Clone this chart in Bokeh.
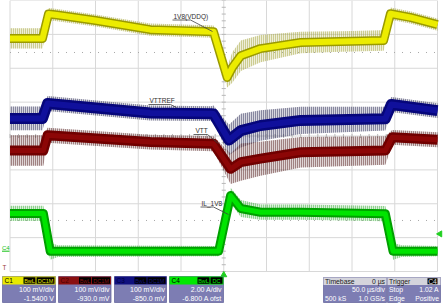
from math import pi
from bokeh.plotting import figure
from bokeh.models import Range1d
from bokeh.core.properties import value
from bokeh.embed import file_html
from bokeh.resources import INLINE

# ---------------- data ----------------
# time in microseconds (50 us/div, trigger at 0)
channels = ["C1", "C2", "C3", "C4"]
volts_per_div = [0.1, 0.1, 0.1, 2.0]
channel_offset = [-1.54, -0.93, -0.85, -6.8]
scale_labels = ["100 mV/div", "100 mV/div", "100 mV/div", "2.00 A/div"]
offset_labels = ["-1.5400 V", "-930.0 mV", "-850.0 mV", "-6.800 A ofst"]
badge_labels = [["BwL", "DC1M"], ["BwL", "DC1M"], ["BwL", "DC1M"], ["BwL", "DC"]]
trace_names = ["1V8(VDDQ)", "VTT", "VTTREF", "IL_1V8"]

# C1 : 1V8 (VDDQ), volts
c1_t = [-250, -212, -205, -195, -150, -86, -12, 4, 10, 20, 43, 90, 137, 187, 195, 218, 250]
c1_v = [1.828, 1.828, 1.900, 1.897, 1.881, 1.854, 1.848, 1.713, 1.742, 1.777, 1.798, 1.816, 1.819, 1.822, 1.901, 1.890, 1.869]
c1_noise = [0.030, 0.030, 0.018, 0.018, 0.018, 0.018, 0.018, 0.030, 0.045, 0.045, 0.040, 0.032, 0.030, 0.030, 0.018, 0.018, 0.018]

# C2 : VTT, volts
c2_t = [-250, -211, -206, -86, -12, 8, 20, 43, 90, 189, 197, 250]
c2_v = [0.887, 0.887, 0.932, 0.912, 0.907, 0.833, 0.853, 0.863, 0.882, 0.887, 0.926, 0.919]
c2_noise = [0.045, 0.045, 0.022, 0.022, 0.022, 0.045, 0.055, 0.050, 0.045, 0.042, 0.022, 0.022]

# C3 : VTTREF, volts
c3_t = [-250, -212, -206, -86, -15, -12, 6, 20, 43, 90, 189, 196, 250]
c3_v = [0.902, 0.902, 0.946, 0.918, 0.916, 0.915, 0.838, 0.866, 0.881, 0.896, 0.901, 0.943, 0.925]
c3_noise = [0.035, 0.035, 0.022, 0.022, 0.022, 0.025, 0.045, 0.050, 0.045, 0.040, 0.035, 0.022, 0.022]

# C4 : IL_1V8, amps
c4_t = [-250, -211, -203, -194, -6, 8, 20, 43, 90, 189, 198, 208, 250]
c4_i = [2.23, 2.23, 0.0, 0.0, 0.0, 3.29, 2.52, 2.30, 2.30, 2.21, 0.0, 0.0, 0.0]
c4_noise = [0.45, 0.45, 0.50, 0.35, 0.30, 0.45, 0.50, 0.45, 0.45, 0.45, 0.50, 0.35, 0.30]

trigger_level = 1.02  # A on C4
timebase = ["Timebase", "0 µs", "50.0 µs/div", "500 kS", "1.0 GS/s"]
trigger = ["Trigger", "C4", "Stop", "1.02 A", "Edge", "Positive"]

# ---------------- styles ----------------
W, H = 443, 303
FONT = value("Liberation Sans")
band_col = ["#9a9a00", "#700000", "#06067a", "#00a000"]
core_col = ["#ecec00", "#8c0606", "#10109c", "#00e400"]
spike_col = ["#a8a840", "#5a2828", "#303058", "#40b040"]
head_col = ["#e8e800", "#8a1010", "#10107e", "#00e800"]
head_txt = ["#000000", "#4a0000", "#000040", "#000000"]
panel_bg = "#7d7db3"
grid_col = "#d8d8d8"

# frame geometry: 10 x 8 divisions
GX0, GX1, GY0, GY1 = 9.5, 437.0, 0.0, 271.0
us_per_px = 500.0 / (GX1 - GX0)
div_per_px = 8.0 / (GY1 - GY0)
x_lo = -250 - GX0 * us_per_px
x_hi = 250 + (W - GX1) * us_per_px
d_top = 4.0
d_bot = 4.0 - H * div_per_px

p = figure(width=W, height=H, x_range=Range1d(x_lo, x_hi), y_range=Range1d(d_bot, d_top),
           output_backend="svg", toolbar_location=None, min_border=0,
           x_axis_type=None, y_axis_type=None, outline_line_color=None,
           background_fill_color="white", border_fill_color="white")
p.extra_x_ranges = {"px": Range1d(0, W)}
p.extra_y_ranges = {"px": Range1d(H, 0)}
for ch, s, off in zip(channels, volts_per_div, channel_offset):
    c = -off
    p.extra_y_ranges[ch] = Range1d(c + d_bot * s, c + d_top * s)

# ---------------- graticule ----------------
vt = [-250 + 50 * k for k in range(11)]
p.segment(x0=vt, y0=[-4] * 11, x1=vt, y1=[4] * 11, line_color=grid_col, line_width=1)
hd = [-4 + k for k in range(9)]
p.segment(x0=[-250] * 9, y0=hd, x1=[250] * 9, y1=hd, line_color=grid_col, line_width=1)
ty = [-4 + 0.2 * k for k in range(41)]
p.segment(x0=[-2.4] * 41, y0=ty, x1=[2.4] * 41, y1=ty, line_color="#b8b8b8", line_width=1)
tx = [-250 + 10 * k for k in range(51)]
p.segment(x0=tx, y0=[-0.06] * 51, x1=tx, y1=[0.06] * 51, line_color="#b8b8b8", line_width=1)
for dy in [2.465, -2.494]:
    p.line(x=[-250, 250], y=[dy, dy], line_color="#a8a8a8", line_width=1, line_dash="1 7")

# ---------------- traces ----------------
series = [(c1_t, c1_v, c1_noise), (c2_t, c2_v, c2_noise), (c3_t, c3_v, c3_noise), (c4_t, c4_i, c4_noise)]
band_w = [9, 10, 11, 9]
core_w = [6, 5, 6, 5]
for idx in [0, 2, 1, 3]:
    t, v, nz = series[idx]
    ch = channels[idx]
    lo = [a - b for a, b in zip(v, nz)]
    hi = [a + b for a, b in zip(v, nz)]
    p.varea(x=t, y1=lo, y2=hi, y_range_name=ch, fill_color=spike_col[idx], fill_alpha=0.2,
            hatch_pattern="vertical_line", hatch_color=spike_col[idx], hatch_alpha=0.95,
            hatch_scale=2, hatch_weight=1)
    p.line(t, v, y_range_name=ch, line_color=band_col[idx], line_width=band_w[idx], line_join="round")
    p.line(t, v, y_range_name=ch, line_color=core_col[idx], line_width=core_w[idx], line_join="round")

# ---------------- trace labels ----------------
lab_x = [173, 195, 149, 201]
lab_y = [15.5, 130, 100, 202.5]
p.text(x=lab_x, y=lab_y, text=trace_names, x_range_name="px", y_range_name="px",
       text_font=FONT, text_font_size=value("6.5px"), text_color="#303030",
       text_baseline="middle", text_align="left")
lead_x = [[172, 190, 212], [193, 207, 218], [148, 170, 176], [200, 213, 228]]
lead_y = [[19.5, 19.5, 31], [134, 134, 143], [104, 104, 107], [206.5, 206.5, 214]]
p.multi_line(xs=lead_x, ys=lead_y, x_range_name="px", y_range_name="px",
             line_color="#404040", line_width=0.8)

# channel ground marker (C4 at 0 A) and misc markers
p.text(x=[1.5], y=[0], text=["C4"], x_range_name="px", y_range_name="C4",
       text_font=FONT, text_font_size=value("6px"), text_color="#10c010",
       text_baseline="bottom", text_align="left")
p.segment(x0=[1.5], y0=[0], x1=[9], y1=[0], x_range_name="px", y_range_name="C4",
          line_color="#10c010", line_width=1)
p.text(x=[2], y=[268], text=["ᵀ"], x_range_name="px", y_range_name="px",
       text_font=FONT, text_font_size=value("9px"), text_color="#a04040",
       text_baseline="middle", text_align="left")
p.scatter(x=[0], y=[274.5], y_range_name="px", marker="triangle", size=6,
          fill_color="#20d020", line_color="#20d020")
p.scatter(x=[439.5], y=[trigger_level], x_range_name="px", y_range_name="C4",
          marker="triangle", angle=pi / 2, size=6, fill_color="#20d020", line_color="#20d020")

# ---------------- bottom panels ----------------
PY0, PH, PY1 = 276, 284, 302
px0 = [2, 58, 114, 169]
px1 = [55, 110.5, 166, 223]
for i in range(4):
    a, b = px0[i], px1[i]
    p.quad(left=[a], right=[b], top=[PY0], bottom=[PY1], x_range_name="px", y_range_name="px",
           fill_color=panel_bg, line_color="#6a6aa0", line_width=0.8)
    p.quad(left=[a], right=[b], top=[PY0], bottom=[PH], x_range_name="px", y_range_name="px",
           fill_color=head_col[i], line_color=None)
    p.text(x=[a + 2], y=[PY0 + 4], text=[channels[i]], x_range_name="px", y_range_name="px",
           text_font=FONT, text_font_size=value("6.5px"), text_color=head_txt[i],
           text_baseline="middle", text_align="left")
    bl = [b - 32, b - 19] if i < 3 else [b - 26, b - 13]
    br = [b - 20, b - 1] if i < 3 else [b - 14, b - 1]
    p.quad(left=bl, right=br, top=[PY0 + 0.8] * 2, bottom=[PH - 0.8] * 2,
           x_range_name="px", y_range_name="px", fill_color="#000000", line_color=None)
    p.text(x=[(l + r) / 2 for l, r in zip(bl, br)], y=[PY0 + 4] * 2, text=badge_labels[i],
           x_range_name="px", y_range_name="px", text_font=FONT, text_font_size=value("5.5px"),
           text_color=head_col[i], text_baseline="middle", text_align="center")
    p.text(x=[b - 1.5, b - 1.5], y=[289, 297.5], text=[scale_labels[i], offset_labels[i]],
           x_range_name="px", y_range_name="px", text_font=FONT, text_font_size=value("7px"),
           text_color="white", text_baseline="middle", text_align="right")

# timebase and trigger panels
for a, b in [(323, 386), (387, 440)]:
    p.quad(left=[a], right=[b], top=[PY0 + 1], bottom=[PY1], x_range_name="px", y_range_name="px",
           fill_color=panel_bg, line_color="#6a6aa0", line_width=0.8)
    p.quad(left=[a], right=[b], top=[PY0 + 1], bottom=[PH + 0.5], x_range_name="px", y_range_name="px",
           fill_color="#d4d4dc", line_color=None)
p.quad(left=[427], right=[437], top=[PY0 + 1.8], bottom=[PH - 0.3], x_range_name="px", y_range_name="px",
       fill_color="#000000", line_color=None)
tl_x = [324.5, 388.5, 324.5, 388.5, 388.5]
tl_y = [PY0 + 4.5, PY0 + 4.5, 297.5, 289, 297.5]
tl_t = [timebase[0], trigger[0], timebase[3], trigger[2], trigger[4]]
tl_c = ["#202020", "#202020", "white", "white", "white"]
p.text(x=tl_x, y=tl_y, text=tl_t, text_color=tl_c, x_range_name="px", y_range_name="px",
       text_font=FONT, text_font_size=value("6.8px"), text_baseline="middle", text_align="left")
tr_x = [384.5, 432, 384.5, 384.5, 438.5, 438.5]
tr_y = [PY0 + 4.5, PY0 + 4.5, 289, 297.5, 289, 297.5]
tr_t = [timebase[1], trigger[1], timebase[2], timebase[4], trigger[3], trigger[5]]
tr_c = ["#202020", "#e0e0e0", "white", "white", "white", "white"]
tr_a = ["right", "center", "right", "right", "right", "right"]
p.text(x=tr_x, y=tr_y, text=tr_t, text_color=tr_c, text_align=tr_a, x_range_name="px", y_range_name="px",
       text_font=FONT, text_font_size=value("6.8px"), text_baseline="middle")

open("out.html", "w").write(file_html(p, INLINE))
